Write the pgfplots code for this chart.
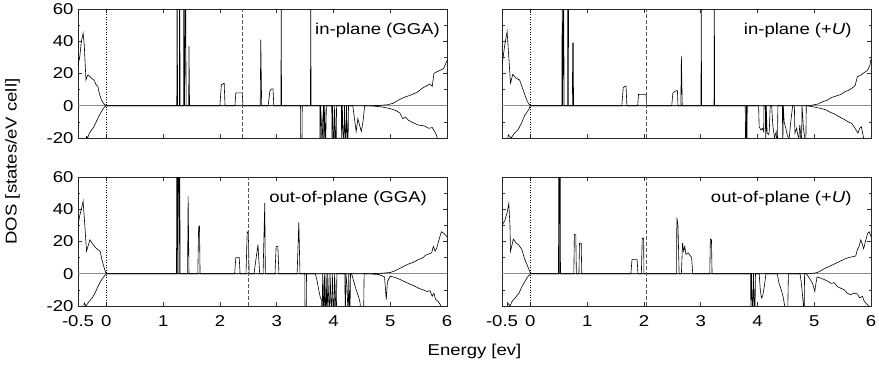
\documentclass[border=0pt]{standalone}
\usepackage{fontspec}
\setmainfont{Liberation Sans}[FakeStretch=1.18]
\usepackage{pgfplots}
\pgfplotsset{compat=1.18}
\newcommand{\lblfont}{\fontsize{15.7}{18}\selectfont}
\pgfplotsset{
  dos/.style={
    scale only axis, width=369pt, height=129pt,
    xmin=-0.5, xmax=6, ymin=-20, ymax=60,
    xtick={-0.5,0,1,2,3,4,5,6},
    ytick={-20,0,20,40,60},
    minor ytick={-10,10,30,50},
    tick align=inside,
    major tick length=4pt, minor tick length=2.5pt,
    tick style={black!80, line width=0.5pt},
    axis line style={black!85, line width=0.8pt},
    tick label style={font=\lblfont},
    xticklabel style={yshift=-6pt},
    yticklabel style={xshift=-1pt},
    anchor=north west,
  },
  dosline/.style={black, line width=0.6pt, mark=none},
  zeroline/.style={black!45, line width=0.5pt, mark=none},
  efline/.style={black, line width=0.6pt, dash pattern=on 1pt off 1.5pt, mark=none},
  eline/.style={black!65, line width=0.7pt, dash pattern=on 4pt off 2pt, mark=none},
}
\begin{document}
\begin{tikzpicture}
\path[use as bounding box] (-78pt,9pt) rectangle (801pt,-356pt);
% ---------------- top left: in-plane GGA
\begin{axis}[dos, at={(0pt,0pt)}, xticklabels={}, yticklabels={-20,0,20,40,60}]
\addplot[zeroline] coordinates {(-0.5,0)(6,0)};
\addplot[dosline] coordinates {
(-0.5,25)(-0.47,30)(-0.44,40)(-0.41,45)(-0.39,38)(-0.36,16)(-0.33,19)(-0.30,18.5)(-0.26,17)(-0.22,16)(-0.18,13)(-0.15,12)(-0.12,7)(-0.09,4)(-0.06,2)(-0.03,0.7)(0,0)
(1.24,0)(1.245,80)(1.255,0)(1.285,0)(1.29,80)(1.30,0)(1.36,0)(1.365,80)(1.375,0)(1.395,80)(1.405,0)(1.45,0)(1.455,37)(1.465,0)
(2.0,0)(2.025,13)(2.075,14)(2.09,0)
(2.265,0)(2.28,8)(2.395,8)(2.405,0)
(2.71,0)(2.72,41)(2.735,0)
(2.85,0)(2.88,9)(2.905,10.5)(2.935,10.5)(2.95,0)
(3.075,0)(3.08,80)(3.085,0)
(3.595,0)(3.60,80)(3.605,0)
(4.6,0)(4.8,0.2)(4.95,0.6)(5.05,1.5)(5.12,3)(5.2,4.5)(5.27,5.5)(5.35,6.5)(5.42,7.5)(5.48,8.5)(5.55,10.5)(5.62,12)(5.7,13.5)(5.74,12)(5.77,20)(5.82,21)(5.88,22)(5.94,23)(6,28)};
\addplot[dosline] coordinates {
(-0.5,-30)(-0.37,-25)(-0.35,-19)(-0.33,-20)(-0.3,-17)(-0.26,-15)(-0.22,-13)(-0.18,-10)(-0.14,-7)(-0.1,-4.5)(-0.06,-2)(-0.03,-0.7)(0,0)
(3.42,0)(3.425,-30)(3.445,-30)(3.45,0)
(3.76,0)(3.765,-30)(3.775,0)(3.79,-12)(3.80,-30)(3.81,-10)(3.825,0)(3.83,-30)(3.845,0)(3.86,-30)(3.875,0)
(3.97,0)(3.975,-30)(3.985,0)(4.01,-30)(4.02,0)(4.045,-30)(4.055,0)
(4.14,0)(4.145,-30)(4.155,0)(4.185,-30)(4.195,0)(4.22,-30)(4.23,0)(4.255,-30)(4.265,0)
(4.34,0)(4.37,-8)(4.40,-16)(4.43,-8)(4.46,-12)(4.49,-16)(4.52,-10)(4.55,0)
(4.7,-0.2)(4.85,-0.7)(5.0,-1.8)(5.1,-3)(5.17,-4.5)(5.22,-8)(5.27,-7)(5.32,-9)(5.4,-10.5)(5.5,-12)(5.6,-12.5)(5.68,-14)(5.74,-13.5)(5.8,-17)(5.85,-22)(6,-30)};
\addplot[efline] coordinates {(0,-20)(0,60)};
\addplot[eline] coordinates {(2.4,-20)(2.4,60)};
\node[anchor=north east, inner sep=0pt, font=\lblfont] at (rel axis cs:0.981,0.89) {in-plane (GGA)};
\end{axis}
% ---------------- top right: in-plane +U
\begin{axis}[dos, at={(424pt,0pt)}, xticklabels={}, yticklabels={}]
\addplot[zeroline] coordinates {(-0.5,0)(6,0)};
\addplot[dosline] coordinates {
(-0.5,25)(-0.45,38)(-0.41,46)(-0.38,30)(-0.35,14)(-0.31,19.5)(-0.25,17)(-0.19,16)(-0.13,10)(-0.07,4)(-0.03,1.2)(0,0)
(0.555,0)(0.56,80)(0.57,0)(0.585,80)(0.595,0)(0.655,0)(0.66,80)(0.67,80)(0.675,0)(0.74,0)(0.745,39)(0.755,39)(0.76,0)
(1.61,0)(1.635,11)(1.66,12)(1.685,12.2)(1.70,0)
(1.89,0)(1.905,7)(2.04,7.1)(2.045,0)
(2.49,0)(2.51,8)(2.57,9.3)(2.59,9.4)(2.60,0)(2.65,0)(2.66,31)(2.675,0)
(3.005,0)(3.01,80)(3.015,0)
(3.235,0)(3.24,80)(3.245,0)
(4.85,0)(4.95,0.3)(5.06,1)(5.15,2.5)(5.23,3.5)(5.3,5)(5.38,6)(5.47,7)(5.53,8.5)(5.6,9.5)(5.67,11)(5.72,12.5)(5.76,18)(5.82,19)(5.88,20.5)(5.94,22)(5.98,25)(6,29)};
\addplot[dosline] coordinates {
(-0.5,-30)(-0.41,-24)(-0.39,-18)(-0.34,-20)(-0.28,-17)(-0.22,-15)(-0.16,-11)(-0.10,-6)(-0.04,-3)(0,0)
(3.785,0)(3.79,-30)(3.80,-30)(3.805,0)(3.815,-30)(3.82,0)
(4.02,0)(4.03,-13)(4.06,-15)(4.09,-14)(4.11,-16)(4.115,0)(4.14,0)(4.145,-30)(4.155,0)(4.17,-17)(4.20,-18)(4.21,-14)(4.225,0)(4.25,0)(4.27,-12)(4.30,-20)(4.33,-16)(4.35,-30)(4.36,0)
(4.44,0)(4.445,-30)(4.455,0)(4.47,-10)(4.5,-14)(4.53,-19)(4.56,-20)(4.58,-12)(4.62,0)(4.65,0)(4.66,-17)(4.69,-14)(4.71,-18)(4.73,-20)(4.745,-12)(4.76,-17)(4.775,-30)(4.785,0)(4.81,-14)(4.83,-19)(4.85,-30)(4.86,0)
(4.9,-0.2)(5.0,-0.8)(5.1,-1.5)(5.2,-2.5)(5.28,-4)(5.35,-5)(5.45,-7)(5.53,-8.5)(5.6,-10)(5.66,-11)(5.72,-14)(5.77,-17)(5.8,-14)(5.83,-13)(5.87,-20)(5.92,-26)(6,-30)};
\addplot[efline] coordinates {(0,-20)(0,60)};
\addplot[eline] coordinates {(2.04,-20)(2.04,60)};
\node[anchor=north east, inner sep=0pt, font=\lblfont] at (rel axis cs:0.948,0.89) {in-plane (+\textit{U})};
\end{axis}
% ---------------- bottom left: out-of-plane GGA
\begin{axis}[dos, at={(0pt,-168pt)}, xticklabels={-0.5,0,1,2,3,4,5,6}, yticklabels={-20,0,20,40,60}]
\addplot[zeroline] coordinates {(-0.5,0)(6,0)};
\addplot[dosline] coordinates {
(-0.5,30)(-0.47,36)(-0.44,40)(-0.41,45)(-0.38,30)(-0.35,14)(-0.29,21)(-0.25,19)(-0.2,16.5)(-0.15,15)(-0.11,14)(-0.08,9)(-0.05,5)(-0.02,1.5)(0,0)
(1.235,0)(1.24,80)(1.25,0)(1.26,80)(1.27,80)(1.28,0)(1.29,80)(1.30,0)
(1.43,0)(1.44,48)(1.455,0)
(1.61,0)(1.625,29)(1.64,29.5)(1.65,0)
(2.26,0)(2.28,10)(2.34,10)(2.355,0)
(2.46,0)(2.48,26)(2.50,25)(2.515,0)
(2.6,0)(2.67,18)(2.70,0)
(2.76,0)(2.79,44)(2.80,0)
(2.97,0)(2.99,17)(3.02,17)(3.04,0)
(3.36,0)(3.39,32)(3.41,0)
(4.6,0)(4.85,0.3)(5.0,0.8)(5.06,1.5)(5.15,3)(5.23,4.5)(5.32,6)(5.4,7)(5.48,8.5)(5.58,10)(5.62,11.5)(5.66,12)(5.73,13)(5.76,17)(5.79,14)(5.82,16)(5.85,20)(5.9,26)(5.95,25)(6,23)};
\addplot[dosline] coordinates {
(-0.5,-30)(-0.41,-24)(-0.39,-18)(-0.36,-20)(-0.3,-17)(-0.25,-15)(-0.2,-12)(-0.15,-8)(-0.1,-4.5)(-0.05,-2)(0,0)
(3.495,0)(3.5,-30)(3.52,-30)(3.525,0)
(3.68,0)(3.71,-4)(3.74,-10)(3.77,-15)(3.79,-16)(3.80,-30)(3.81,0)(3.83,-30)(3.84,0)(3.86,-30)(3.87,0)(3.89,-30)(3.90,0)(3.93,-30)(3.94,0)(3.97,-30)(3.98,0)(4.01,-30)(4.02,0)(4.05,-30)(4.06,0)
(4.2,0)(4.21,-30)(4.22,0)(4.24,-8)(4.26,-30)(4.27,0)(4.29,-30)(4.30,0)
(4.32,0)(4.36,-5)(4.40,-10)(4.44,-14)(4.47,-18)(4.48,-30)(4.50,-20)(4.53,-30)(4.54,0)
(4.6,0)(4.8,-0.5)(4.9,-2)(4.93,-16)(4.95,-5)(5.0,-1.5)(5.1,-2.5)(5.17,-3.5)(5.26,-5)(5.35,-6.5)(5.42,-7.5)(5.5,-9)(5.58,-10)(5.65,-11)(5.7,-10.5)(5.74,-14)(5.77,-12)(5.8,-16)(5.84,-17)(5.88,-19)(5.92,-24)(6,-30)};
\addplot[efline] coordinates {(0,-20)(0,60)};
\addplot[eline] coordinates {(2.5,-20)(2.5,60)};
\node[anchor=north east, inner sep=0pt, font=\lblfont] at (rel axis cs:0.946,0.89) {out-of-plane (GGA)};
\end{axis}
% ---------------- bottom right: out-of-plane +U
\begin{axis}[dos, at={(424pt,-168pt)}, xticklabels={-0.5,0,1,2,3,4,5,6}, yticklabels={}]
\addplot[zeroline] coordinates {(-0.5,0)(6,0)};
\addplot[dosline] coordinates {
(-0.5,30)(-0.45,33)(-0.41,38)(-0.38,43.5)(-0.36,30)(-0.35,14)(-0.30,21.5)(-0.25,19)(-0.21,18)(-0.15,15)(-0.10,9)(-0.04,4)(0,0.5)(0.02,0)
(0.495,0)(0.50,80)(0.51,0)(0.515,80)(0.525,80)(0.53,0)
(0.765,0)(0.775,24.5)(0.80,24)(0.81,0)
(0.855,0)(0.865,19)(0.895,19)(0.905,0)
(1.77,0)(1.79,8.8)(1.88,8.8)(1.895,0)
(1.955,0)(1.97,22)(1.995,22)(2.0,0)
(2.575,0)(2.58,35)(2.60,30)(2.62,0)
(2.66,0)(2.68,19)(2.70,14)(2.72,17)(2.74,12)(2.78,13)(2.84,10)(2.86,0)
(3.16,0)(3.17,21.5)(3.19,21)(3.20,0)
(4.9,0)(5.0,0.4)(5.06,0.8)(5.12,2)(5.17,3)(5.26,4.5)(5.35,6)(5.44,7.5)(5.53,9)(5.6,10)(5.67,10.5)(5.73,11)(5.76,15)(5.79,17)(5.82,21)(5.85,18)(5.87,15.5)(5.91,21)(5.94,25)(5.97,26)(6,23)};
\addplot[dosline] coordinates {
(-0.5,-30)(-0.42,-24)(-0.40,-18)(-0.36,-20)(-0.32,-17)(-0.27,-15)(-0.2,-12)(-0.15,-8)(-0.1,-5)(-0.05,-2)(0,0)
(3.88,0)(3.885,-30)(3.895,0)(3.92,-30)(3.93,0)(3.955,-30)(3.965,0)
(4.03,0)(4.05,-10)(4.07,-15)(4.09,-14)(4.12,-8)(4.15,0)
(4.35,0)(4.38,-6)(4.42,-10)(4.45,-14)(4.48,-20)(4.50,-30)(4.51,-20)(4.53,-30)(4.545,0)
(4.75,0)(4.77,-5)(4.79,-12)(4.81,-20)(4.82,-30)(4.83,0)
(4.86,0)(4.92,-3)(4.97,-6)(5.01,-11)(5.03,-6)(5.05,-2)
(5.1,-2.5)(5.17,-3.5)(5.23,-4.5)(5.3,-6)(5.35,-5.5)(5.41,-8)(5.47,-9)(5.53,-10)(5.58,-12)(5.64,-13)(5.7,-12)(5.76,-12.5)(5.8,-15)(5.85,-14)(5.88,-17)(5.93,-19)(5.96,-20)(6,-22)};
\addplot[efline] coordinates {(0,-20)(0,60)};
\addplot[eline] coordinates {(2.04,-20)(2.04,60)};
\node[anchor=north east, inner sep=0pt, font=\lblfont] at (rel axis cs:0.948,0.89) {out-of-plane (+\textit{U})};
\end{axis}
\node[rotate=90, anchor=south, inner sep=0pt, font=\lblfont] at (-58pt,-152.5pt) {DOS [states/eV cell]};
\node[anchor=north, inner sep=0pt, font=\lblfont] at (396.5pt,-335pt) {Energy [ev]};
\end{tikzpicture}
\end{document}
